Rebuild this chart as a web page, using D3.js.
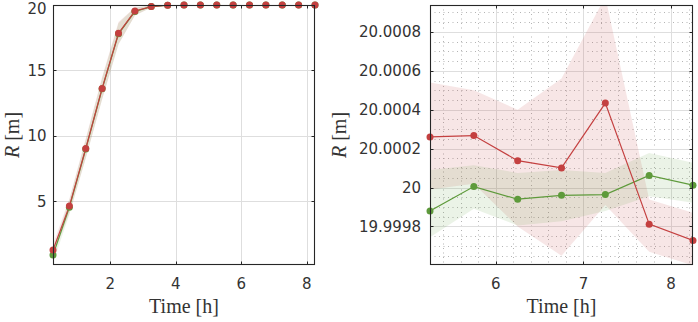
<html>
<head>
<script src="https://cdn.jsdelivr.net/npm/d3@7"></script>
<style>
  body { margin: 0; background: white; }
  svg { display: block; }
  .tick-label { font-family: "DejaVu Sans", sans-serif; font-size: 15px; fill: #333; }
  .axis-title { font-family: "Liberation Serif", serif; font-size: 20px; fill: #333; }
</style>
</head>
<body>
<svg id="chart" width="698" height="322"></svg>
<script>
// ---- data ----
const timeLeft = [0.25, 0.75, 1.25, 1.75, 2.25, 2.75, 3.25, 3.75, 4.25, 4.75, 5.25, 5.75, 6.25, 6.75, 7.25, 7.75, 8.25];
const leftRed   = [1.28, 4.64, 9.04, 13.63, 17.84, 19.54, 19.88, 19.98, 20, 20, 20, 20, 20, 20, 20, 20, 20];
const leftGreen = [0.90, 4.55, 9.00, 13.60, 17.80, 19.50, 19.88, 19.98, 20, 20, 20, 20, 20, 20, 20, 20, 20];
const leftRedUp   = [1.70, 5.20, 9.80, 14.50, 18.70, 19.80, 19.95, 20, 20, 20, 20, 20, 20, 20, 20, 20, 20];
const leftRedLo   = [0.90, 4.10, 8.30, 12.80, 17.00, 19.20, 19.80, 19.97, 20, 20, 20, 20, 20, 20, 20, 20, 20];
const leftGreenUp = [1.30, 5.10, 9.70, 14.40, 18.60, 19.80, 19.95, 20, 20, 20, 20, 20, 20, 20, 20, 20, 20];
const leftGreenLo = [0.30, 4.00, 8.30, 12.80, 17.00, 19.20, 19.80, 19.97, 20, 20, 20, 20, 20, 20, 20, 20, 20];

const timeRight = [5.25, 5.75, 6.25, 6.75, 7.25, 7.75, 8.25];
const rightRed   = [20.00026, 20.000267, 20.000138, 20.000101, 20.000434, 19.999812, 19.999728];
const rightGreen = [19.99988, 20.000005, 19.99994, 19.99996, 19.999964, 20.000062, 20.000012];
const rightRedUp   = [20.00054, 20.0005, 20.0004, 20.00056, 20.00098, 19.999938, 19.99987];
const rightRedLo   = [19.99999, 20.00002, 19.9998, 19.99965, 19.99991, 19.99967, 19.9996];
const rightGreenUp = [20.00009, 20.000115, 20.000075, 20.00009, 20.000075, 20.000178, 20.000127];
const rightGreenLo = [19.999744, 19.999891, 19.999805, 19.999827, 19.99988, 19.999955, 19.999922];

const leftXTicks = [2, 4, 6, 8];
const leftYTicks = [5, 10, 15, 20];
const rightXTicks = [6, 7, 8];
const rightYTicks = [19.9998, 20, 20.0002, 20.0004, 20.0006, 20.0008];
const rightYLabels = ["19.9998", "20", "20.0002", "20.0004", "20.0006", "20.0008"];

const RED = "#c44040", GREEN = "#5e9a3b", AXIS = "#262626";

const svg = d3.select("#chart");

function drawPanel(cfg) {
  const { x0, x1, y0, y1, xDomain, yDomain, id } = cfg;
  const x = d3.scaleLinear().domain(xDomain).range([x0, x1]);
  const y = d3.scaleLinear().domain(yDomain).range([y1, y0]);
  const g = svg.append("g");

  g.append("clipPath").attr("id", id).append("rect")
    .attr("x", x0).attr("y", y0).attr("width", x1 - x0).attr("height", y1 - y0);

  // minor grid (dotted)
  if (cfg.minorX) {
    g.selectAll(".mgx").data(cfg.minorX).enter().append("line")
      .attr("x1", d => Math.round(x(d)) + 0.5).attr("x2", d => Math.round(x(d)) + 0.5)
      .attr("y1", y0).attr("y2", y1)
      .attr("stroke", "#b4b4b4").attr("stroke-dasharray", "1,3.5");
    g.selectAll(".mgy").data(cfg.minorY).enter().append("line")
      .attr("y1", d => Math.round(y(d)) + 0.5).attr("y2", d => Math.round(y(d)) + 0.5)
      .attr("x1", x0).attr("x2", x1)
      .attr("stroke", "#b4b4b4").attr("stroke-dasharray", "1,3.5");
  }
  // major grid
  g.selectAll(".gx").data(cfg.xTicks).enter().append("line")
    .attr("x1", d => Math.round(x(d)) + 0.5).attr("x2", d => Math.round(x(d)) + 0.5)
    .attr("y1", y0).attr("y2", y1).attr("stroke", "#dedede");
  g.selectAll(".gy").data(cfg.yTicks).enter().append("line")
    .attr("y1", d => Math.round(y(d)) + 0.5).attr("y2", d => Math.round(y(d)) + 0.5)
    .attr("x1", x0).attr("x2", x1).attr("stroke", "#dedede");

  const plot = g.append("g").attr("clip-path", `url(#${id})`);
  const area = (up, lo) => d3.area().x((d, i) => x(cfg.t[i])).y0((d, i) => y(lo[i])).y1((d, i) => y(up[i]));

  plot.append("path").datum(cfg.t).attr("d", area(cfg.redUp, cfg.redLo))
    .attr("fill", RED).attr("fill-opacity", 0.13);
  plot.append("path").datum(cfg.t).attr("d", area(cfg.greenUp, cfg.greenLo))
    .attr("fill", GREEN).attr("fill-opacity", 0.12);

  const line = d3.line().x((d, i) => x(cfg.t[i])).y(d => y(d));
  [[cfg.green, GREEN], [cfg.red, RED]].forEach(([vals, col]) => {
    plot.append("path").datum(vals).attr("d", line)
      .attr("fill", "none").attr("stroke", col).attr("stroke-width", 1.2);
    g.selectAll(null).data(vals).enter().append("circle")
      .attr("cx", (d, i) => x(cfg.t[i])).attr("cy", d => y(d)).attr("r", 3.5)
      .attr("fill", col);
  });

  // box
  g.append("rect").attr("x", x0 + 0.5).attr("y", y0 + 0.5)
    .attr("width", x1 - x0 - 1).attr("height", y1 - y0 - 1)
    .attr("fill", "none").attr("stroke", AXIS).attr("stroke-width", 1.1);

  // inward ticks on all sides
  const tl = 3.5;
  cfg.xTicks.forEach(d => {
    const px = Math.round(x(d)) + 0.5;
    g.append("line").attr("x1", px).attr("x2", px).attr("y1", y1).attr("y2", y1 - tl).attr("stroke", AXIS);
    g.append("line").attr("x1", px).attr("x2", px).attr("y1", y0).attr("y2", y0 + tl).attr("stroke", AXIS);
    g.append("text").attr("class", "tick-label").attr("x", x(d)).attr("y", y1 + 24)
      .attr("text-anchor", "middle").text(d);
  });
  cfg.yTicks.forEach((d, i) => {
    const py = Math.round(y(d)) + 0.5;
    g.append("line").attr("y1", py).attr("y2", py).attr("x1", x0).attr("x2", x0 + tl).attr("stroke", AXIS);
    g.append("line").attr("y1", py).attr("y2", py).attr("x1", x1).attr("x2", x1 - tl).attr("stroke", AXIS);
    g.append("text").attr("class", "tick-label").attr("x", x0 - cfg.labelGap)
      .attr("y", Math.max(y(d), 8.5))
      .attr("dy", "0.36em").attr("text-anchor", "end").text(cfg.yLabels[i]);
  });

  // axis titles
  g.append("text").attr("class", "axis-title").attr("x", (x0 + x1) / 2).attr("y", 313)
    .attr("text-anchor", "middle").text("Time [h]");
  const yl = g.append("text").attr("class", "axis-title")
    .attr("transform", `translate(${cfg.ylabelX},${(y0 + y1) / 2}) rotate(-90)`)
    .attr("text-anchor", "middle");
  yl.append("tspan").attr("font-style", "italic").text("R");
  yl.append("tspan").text(" [m]");
}

drawPanel({
  id: "clipL", x0: 53, x1: 315, y0: 5, y1: 265,
  xDomain: [0.25, 8.25], yDomain: [0.14, 20],
  t: timeLeft, red: leftRed, green: leftGreen,
  redUp: leftRedUp, redLo: leftRedLo, greenUp: leftGreenUp, greenLo: leftGreenLo,
  xTicks: leftXTicks, yTicks: leftYTicks, yLabels: leftYTicks.map(String),
  labelGap: 6.5, ylabelX: 19
});

drawPanel({
  id: "clipR", x0: 430, x1: 693, y0: 5, y1: 265,
  xDomain: [5.25, 8.25], yDomain: [19.999602, 20.000938],
  t: timeRight, red: rightRed, green: rightGreen,
  redUp: rightRedUp, redLo: rightRedLo, greenUp: rightGreenUp, greenLo: rightGreenLo,
  xTicks: rightXTicks, yTicks: rightYTicks, yLabels: rightYLabels,
  minorX: d3.range(5.4, 8.25, 0.2).filter(v => Math.abs(v - Math.round(v)) > 0.01),
  minorY: d3.range(19.99965, 20.00094, 0.00005).filter(v => Math.abs((v - 20) / 0.0002 - Math.round((v - 20) / 0.0002)) > 0.05),
  labelGap: 9, ylabelX: 346
});
</script>
</body>
</html>
